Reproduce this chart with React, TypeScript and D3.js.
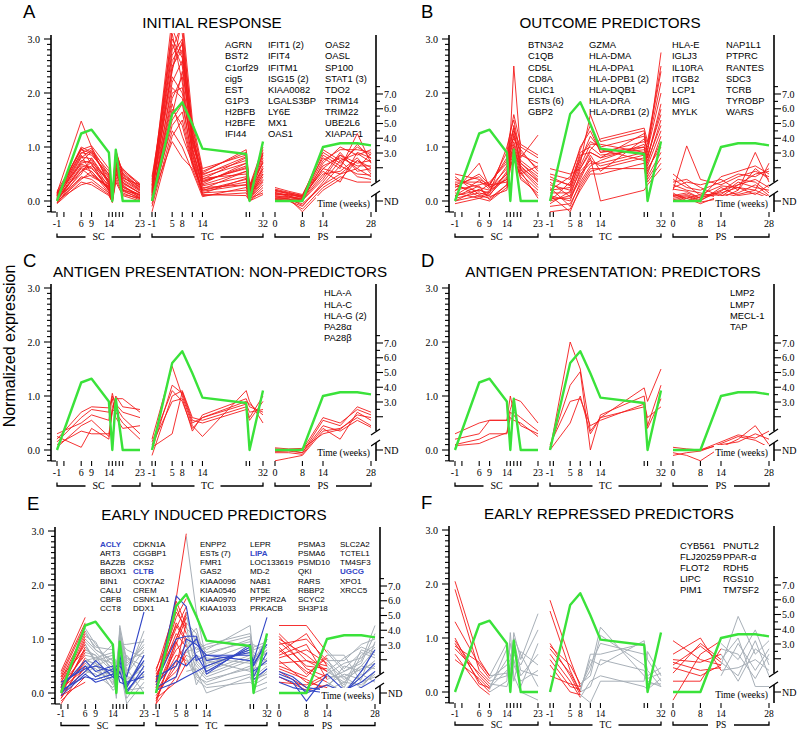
import React from 'react';
import * as d3 from 'd3';

// ---------- time points ----------
const SC_T = [-1, 6, 9, 14, 15, 16, 18, 23];
const TC_T = [-1, 5, 8, 11, 14, 27, 28, 32];
const PS_T = [0, 4, 8, 14, 19, 24, 28];

const SC_TICKS = [-1, 1, 6, 9, 14, 15, 16, 17, 18, 23];
const TC_TICKS = [-1, 0, 5, 8, 11, 14, 27, 28, 32];
const PS_TICKS = [0, 8, 14, 28];
const SC_LABELS = [-1, 6, 9, 14, 23];
const TC_LABELS = [-1, 5, 8, 14, 32];
const PS_LABELS = [0, 8, 14, 28];

const LEFT_TICK_LABELS = [0, 1, 2, 3];
const RIGHT_TICK_LABELS = [3, 4, 5, 6, 7];

// ---------- reference (green) profile ----------
const GREEN_SC = [0.0, 1.25, 1.32, 0.9, 0.0, 0.95, 0.0, 0.0];
const GREEN_TC = [0.0, 1.61, 1.83, 1.42, 0.97, 0.87, 0.0, 1.1];
const GREEN_PS = [0.0, 0.0, 0.0, 1.0, 1.07, 1.07, 1.03];

// ---------- Panel A ----------
const A_SC = [
  [0.0, 0.62, 0.55, 0.2, 0.02, 0.6, 0.35, 0.15],
  [0.05, 0.8, 0.95, 0.35, 0.05, 0.7, 0.45, 0.2],
  [-0.03, 0.45, 0.4, 0.15, 0.0, 0.55, 0.25, 0.1],
  [0.1, 1.0, 0.9, 0.45, 0.08, 0.9, 0.55, 0.3],
  [0.15, 1.48, 1.0, 0.3, 0.05, 0.85, 0.4, 0.2],
  [0.02, 0.7, 0.75, 0.25, 0.0, 0.65, 0.3, 0.05],
  [0.08, 0.55, 0.65, 0.4, 0.1, 0.75, 0.6, 0.28],
  [0.12, 0.9, 0.85, 0.5, 0.05, 0.8, 0.2, 0.12],
  [-0.05, 0.35, 0.3, 0.1, -0.02, 0.45, 0.15, 0.02],
  [0.18, 0.95, 1.02, 0.6, 0.12, 0.95, 0.5, 0.25],
  [0.0, 0.65, 0.6, 0.3, 0.03, 0.5, 0.22, 0.08],
  [0.06, 0.75, 0.7, 0.2, 0.0, 0.7, 0.38, 0.18],
  [0.03, 0.5, 0.8, 0.35, 0.06, 0.6, 0.28, 0.1],
  [0.1, 0.85, 0.5, 0.25, 0.02, 0.75, 0.45, 0.22],
  [-0.02, 0.4, 0.55, 0.15, 0.0, 0.4, 0.12, 0.05],
  [0.14, 0.95, 0.88, 0.42, 0.08, 0.88, 0.32, 0.15],
  [0.04, 0.6, 0.45, 0.28, 0.04, 0.62, 0.42, 0.3],
  [0.07, 0.72, 0.92, 0.55, 0.1, 0.82, 0.18, 0.06],
  [0.01, 0.3, 0.35, 0.12, -0.03, 0.35, 0.1, 0.0],
  [0.09, 0.82, 0.78, 0.32, 0.05, 0.72, 0.52, 0.26],
  [0.16, 0.68, 0.62, 0.22, 0.02, 0.58, 0.26, 0.12],
  [-0.04, 0.55, 0.72, 0.38, 0.07, 0.68, 0.34, 0.14],
  [0.11, 0.98, 0.68, 0.18, 0.01, 0.92, 0.48, 0.24],
  [0.05, 0.42, 0.48, 0.26, 0.03, 0.52, 0.2, 0.04],
  [0.13, 0.88, 0.98, 0.48, 0.09, 0.78, 0.58, 0.32],
];
const A_TC = [
  [0.0, 2.2, 2.6, 1.0, 0.3, 0.55, 0.1, 0.6],
  [0.1, 2.8, 3.3, 1.2, 0.4, 0.8, 0.2, 0.9],
  [-0.05, 1.5, 1.8, 0.8, 0.2, 0.4, 0.05, 0.35],
  [0.2, 3.4, 3.1, 1.4, 0.55, 0.9, 0.25, 0.95],
  [0.05, 1.9, 2.3, 0.95, 0.25, 0.3, 0.08, 0.5],
  [0.3, 2.6, 2.9, 1.1, 0.45, 0.7, 0.15, 0.75],
  [-0.2, 1.2, 1.5, 0.7, 0.15, 0.2, 0.02, 0.25],
  [0.15, 3.2, 2.7, 1.3, 0.35, 0.65, 0.18, 0.8],
  [0.02, 2.0, 2.1, 0.9, 0.1, 0.15, 0.0, 0.2],
  [0.4, 2.4, 3.4, 1.5, 0.6, 0.85, 0.3, 0.7],
  [0.08, 1.7, 1.4, 0.65, 0.2, 0.35, 0.06, 0.45],
  [0.25, 2.9, 2.5, 1.05, 0.5, 0.75, 0.22, 0.85],
  [-0.1, 1.3, 1.0, 0.55, 0.08, 0.25, 0.04, 0.3],
  [0.12, 2.5, 2.8, 1.15, 0.38, 0.6, 0.12, 0.65],
  [0.35, 3.1, 2.2, 0.85, 0.28, 0.45, 0.1, 0.55],
  [0.0, 1.6, 2.4, 1.25, 0.42, 0.5, 0.14, 0.4],
  [0.18, 2.1, 1.9, 0.75, 0.18, 0.3, 0.05, 0.15],
  [0.45, 2.7, 3.0, 1.35, 0.52, 0.95, 0.28, 1.0],
  [0.06, 1.1, 0.8, 0.6, 0.12, 0.1, 0.0, 0.12],
  [0.22, 2.3, 2.0, 0.95, 0.32, 0.7, 0.2, 0.6],
  [0.1, 1.8, 1.2, 0.7, 0.22, 0.55, 0.09, 0.5],
  [0.28, 3.0, 2.65, 1.2, 0.48, 0.82, 0.24, 0.88],
  [0.03, 1.4, 1.65, 0.72, 0.14, 0.42, 0.07, 0.38],
  [0.16, 2.45, 2.95, 1.1, 0.36, 0.62, 0.16, 0.72],
];
const A_PS = [
  [0.1, 0.08, 0.05, 0.6, 0.85, 0.7, 0.75],
  [0.2, 0.15, 0.1, 0.9, 0.7, 1.0, 0.85],
  [0.0, 0.02, -0.05, 0.3, 0.5, 0.6, 0.45],
  [0.15, 0.1, 0.0, 0.7, 1.0, 0.85, 0.95],
  [0.05, 0.05, -0.2, 0.2, 0.4, 0.75, 0.55],
  [0.25, 0.18, 0.12, 0.8, 0.6, 1.25, 0.7],
  [0.08, 0.03, 0.02, 0.45, 0.9, 0.55, 0.6],
  [0.12, 0.12, 0.08, 0.55, 0.35, 0.9, 0.8],
  [0.02, 0.0, -0.1, 0.35, 0.75, 0.45, 0.4],
  [0.18, 0.14, 0.06, 0.75, 0.95, 0.95, 0.9],
  [0.06, 0.06, 0.04, 0.5, 0.55, 0.8, 0.5],
  [0.22, 0.16, 0.1, 0.65, 0.8, 0.65, 0.65],
  [0.04, 0.01, -0.15, 0.25, 0.45, 0.35, 0.35],
  [0.14, 0.09, 0.03, 0.85, 0.65, 1.05, 0.78],
  [0.09, 0.07, 0.01, 0.4, 0.85, 0.6, 0.88],
  [0.16, 0.11, 0.07, 0.6, 0.5, 0.75, 0.62],
  [0.03, 0.04, -0.08, 0.3, 0.65, 0.5, 0.48],
  [0.2, 0.13, 0.09, 0.95, 0.75, 0.88, 0.72],
];

// ---------- Panel B ----------
const B_SC = [
  [0.1, 0.2, 0.15, 0.5, 0.9, 1.1, 0.7, 0.4],
  [0.5, 0.4, 0.3, 0.8, 1.2, 2.5, 0.9, 0.6],
  [0.0, 0.1, 0.05, 0.3, 0.7, 0.9, 0.5, 0.2],
  [0.3, 0.45, 0.25, 0.6, 1.0, 1.4, 0.8, 1.22],
  [-0.05, 0.05, 0.0, 0.25, 0.65, 0.8, 0.45, 0.1],
  [0.2, 0.3, 0.35, 0.7, 1.1, 1.3, 1.0, 0.8],
  [0.4, 0.25, 0.2, 0.4, 0.85, 1.0, 0.6, 0.3],
  [0.05, 0.15, 0.1, 0.55, 0.95, 1.2, 0.75, 0.5],
  [0.25, 0.5, 0.3, 0.35, 0.75, 0.95, 0.55, 0.05],
  [0.15, 0.05, 0.12, 0.45, 0.8, 1.05, 0.65, 0.35],
  [0.35, 0.35, 0.28, 0.9, 1.3, 1.5, 0.85, 0.7],
  [0.0, 0.22, 0.08, 0.2, 0.6, 0.85, 0.4, 0.15],
  [0.45, 0.12, 0.18, 0.65, 1.05, 1.15, 0.95, 0.55],
  [0.1, 0.38, 0.22, 0.5, 0.9, 1.25, 0.7, 0.45],
  [0.28, 0.18, 0.32, 0.75, 1.15, 1.35, 0.58, 0.25],
  [0.08, 0.28, 0.02, 0.3, 0.7, 0.75, 0.5, 0.65],
  [0.18, 0.7, 0.25, 0.4, 0.8, 0.95, 0.62, 0.38],
  [0.32, 0.08, 0.15, 1.0, 1.25, 1.6, 1.05, 0.85],
];
const B_TC = [
  [0.0, 0.1, 0.6, 0.9, 0.8, 1.0, 0.7, 1.5],
  [0.3, 0.2, 0.8, 1.1, 1.0, 1.2, 0.9, 2.75],
  [-0.1, -0.05, 0.3, 0.6, 0.6, 0.8, 0.5, 1.2],
  [0.5, 0.4, 1.0, 1.3, 0.9, 1.1, 1.0, 2.2],
  [0.1, 0.0, 0.5, 0.7, 0.7, 0.9, 0.6, 1.0],
  [0.2, 0.25, 0.7, 1.6, 1.1, 1.3, 0.8, 1.8],
  [-0.2, -0.15, 0.2, 0.5, 0.5, 0.7, 0.4, 0.8],
  [0.4, 0.3, 0.9, 1.0, 0.85, 0.95, 0.75, 1.4],
  [0.05, 0.05, 0.4, 0.8, 0.0, 0.2, 0.3, 0.6],
  [0.6, 0.5, 0.6, 0.95, 1.15, 1.35, 1.1, 2.5],
  [0.15, 0.15, 0.55, 0.75, 0.65, 0.85, 0.55, 1.1],
  [0.25, -0.1, 0.35, 0.65, 0.75, 1.05, 0.85, 1.6],
  [0.0, 0.35, 0.75, 1.2, 0.95, 0.75, 0.45, 0.9],
  [0.35, 0.08, 0.45, 0.85, 0.55, 1.15, 0.95, 2.0],
  [-0.05, 0.18, 0.65, 1.05, 1.05, 0.9, 0.65, 1.3],
  [0.45, 0.28, 0.85, 0.9, 0.8, 1.25, 1.05, 2.4],
  [0.1, -0.2, 0.25, 0.55, 0.6, 0.6, 0.35, 0.7],
  [0.2, 0.45, 0.95, 1.4, 0.9, 1.0, 0.8, 1.7],
];
const B_PS = [
  [0.1, 0.15, 0.05, 0.2, 0.3, 0.4, 0.25],
  [0.5, 0.3, 0.1, 0.15, 0.25, 0.2, 0.7],
  [0.0, 0.05, -0.05, 0.1, 0.15, 0.3, 0.1],
  [0.2, 1.02, 0.4, 0.3, 0.45, 0.55, 0.45],
  [0.3, 0.2, 0.15, 0.05, 0.2, 0.9, 0.35],
  [0.05, 0.1, 0.0, 0.25, 0.1, 0.15, 0.05],
  [0.4, 0.25, 0.2, 0.35, 0.5, 0.45, 0.6],
  [0.15, 0.0, 0.08, 0.12, 0.35, 0.25, 0.2],
  [0.25, 0.35, 0.3, 0.4, 0.2, 0.6, 0.4],
  [0.08, 0.12, 0.02, 0.18, 0.4, 0.35, 0.15],
  [0.35, 0.4, 0.25, 0.08, 0.3, 0.5, 0.55],
  [0.12, 0.05, 0.12, 0.28, 0.25, 0.12, 0.3],
  [0.22, 0.18, 0.05, 0.45, 0.55, 0.65, 0.5],
  [0.02, 0.08, -0.02, 0.05, 0.12, 0.2, 0.08],
];

// ---------- Panel C ----------
const C_SC = [
  [0.15, 0.6, 0.75, 0.7, 1.05, 0.8, 0.6, 0.3],
  [0.25, 0.05, 0.4, 0.2, 0.8, 0.95, 0.95, 0.7],
  [0.1, 0.35, 0.3, 0.3, 0.7, 1.0, 0.8, 0.75],
  [0.2, 0.7, 0.8, 0.78, 0.95, 0.6, 0.4, 0.45],
  [0.05, 0.45, 0.55, 0.25, 0.75, 0.7, 0.5, 0.2],
  [0.3, 0.5, 0.65, 0.55, 1.0, 0.85, 0.7, 0.6],
];
const C_TC = [
  [0.0, 1.2, 1.05, 0.5, 0.6, 0.85, 0.7, 0.75],
  [0.2, 1.55, 1.0, 0.45, 0.25, 1.1, 0.9, 0.5],
  [-0.1, 1.0, 1.1, 0.6, 0.55, 0.8, 0.6, 1.0],
  [0.1, 0.9, 0.95, 0.35, 0.65, 0.95, 0.8, 0.7],
  [0.05, 0.3, 1.08, 0.55, 0.5, 0.75, 0.55, 0.9],
  [0.15, 1.1, 0.9, 0.4, 0.6, 0.9, 0.85, 0.65],
];
const C_PS = [
  [0.0, 0.0, -0.05, 0.55, 0.45, 0.8, 0.7],
  [-0.05, -0.05, -0.08, 0.4, 0.2, 0.7, 0.55],
  [-0.2, -0.15, -0.1, 0.35, 0.4, 0.6, 0.45],
  [0.02, 0.0, 0.0, 0.6, 0.5, 0.75, 0.65],
  [-0.03, -0.02, -0.05, 0.45, 0.35, 0.55, 0.42],
  [0.04, 0.02, 0.03, 0.3, 0.38, 0.65, 0.6],
];

// ---------- Panel D ----------
const D_SC = [
  [0.3, 0.5, 0.55, 0.55, 0.75, 0.95, 0.9, 0.5],
  [0.2, 0.3, 0.55, 0.55, 1.0, 0.7, 0.6, 0.35],
  [0.1, 0.2, 0.3, 0.3, 0.6, 0.55, 0.5, 0.25],
  [0.08, 0.12, 0.2, 0.32, 0.7, 0.65, 0.45, 0.3],
];
const D_TC = [
  [0.0, 2.0, 1.5, 0.35, 0.6, 1.15, 0.9, 1.5],
  [0.05, 1.2, 1.45, 0.0, 0.65, 1.0, 0.45, 1.2],
  [0.1, 0.9, 0.95, 0.45, 0.55, 0.85, 0.6, 0.8],
  [0.0, 0.5, 1.0, 0.3, 0.6, 0.8, 0.4, 0.95],
];
const D_PS = [
  [0.05, 0.02, 0.0, 0.15, 0.28, 0.22, 0.35],
  [-0.05, -0.1, -0.2, 0.05, 0.2, 0.45, 0.1],
  [0.0, 0.0, 0.0, 0.1, 0.15, 0.3, 0.2],
  [-0.1, -0.05, -0.02, 0.12, 0.25, 0.18, 0.05],
];

// ---------- Panel E ----------
const E_SC_RED_T = [-1, 6];
const E_SC_GRAY_T = [6, 9, 14, 15, 16, 18, 23];
const E_TC_RED_T = [-1, 5, 8];
const E_TC_GRAY_T = [8, 11, 14, 27, 28, 32];
const E_PS_RED_T = [0, 8, 14];
const E_PS_GRAY_T = [14, 19, 24, 28];

const E_SC_RED = [
  [0.4, 1.4], [0.3, 1.25], [0.0, 0.8], [-0.1, 0.6], [0.2, 1.1], [0.1, 0.95], [-0.2, 0.5],
  [0.05, 1.0], [0.15, 0.7], [-0.05, 0.85], [0.25, 1.15], [0.0, 0.4], [0.1, 0.55], [0.35, 1.3],
  [-0.15, 0.3], [0.05, 0.75], [0.2, 0.9], [-0.1, 0.65], [0.12, 1.05], [0.3, 0.8], [-0.05, 0.2],
  [0.08, 0.45],
];
const E_SC_GRAY = [
  [1.0, 0.8, 0.6, 0.0, 1.2, 0.3, 1.15],
  [0.8, 0.7, 0.4, 0.2, 0.9, 0.1, 0.6],
  [1.2, 0.9, 0.5, -0.1, 1.0, 0.5, 0.9],
  [0.6, 0.55, 0.3, 0.4, 0.7, 0.0, 0.4],
  [0.9, 0.6, 0.7, 0.1, 1.25, 0.6, 0.75],
  [0.5, 0.45, 0.2, 0.3, 0.5, -0.2, 0.2],
  [1.1, 0.85, 0.8, 0.0, 0.8, 0.4, 1.0],
  [0.7, 0.65, 0.55, 0.5, 1.1, 0.2, 0.55],
  [0.4, 0.35, 0.1, 0.2, 0.6, 0.7, 0.3],
  [0.95, 0.75, 0.45, -0.05, 1.05, 0.35, 0.8],
  [0.65, 0.5, 0.65, 0.6, 0.4, 0.05, 0.1],
  [1.05, 0.95, 0.35, 0.15, 0.95, 0.8, 0.65],
  [0.55, 0.4, 0.25, 0.05, 0.75, 0.25, 0.45],
  [0.85, 0.6, 0.9, 0.3, 1.15, 0.55, 0.85],
  [0.75, 0.7, 0.15, 0.45, 0.55, -0.1, 0.35],
  [0.45, 0.3, 0.4, 0.0, 0.85, 0.45, 0.0],
  [1.15, 0.8, 0.6, 0.25, 0.65, 0.15, 0.7],
  [0.35, 0.5, 0.3, 0.35, 1.0, 0.65, 0.5],
  [0.9, 0.55, 0.05, 0.1, 0.45, 0.3, 0.25],
  [0.6, 0.65, 0.75, 0.5, 0.9, 0.9, 0.95],
];
const E_SC_BLUE = [
  [0.1, 0.6, 0.4, 0.5, 0.2, 0.4, 0.0, 0.5],
  [0.0, 0.4, 0.6, 0.3, 0.25, 0.7, 0.1, 0.7],
  [0.15, 0.5, 0.3, 0.45, 0.35, 0.3, 0.2, 0.3],
  [0.05, 0.3, 0.25, 0.35, 0.5, 0.5, 0.3, 1.5],
  [0.2, 0.45, 0.5, 0.4, 0.3, 0.6, 0.05, 0.4],
  [-0.05, 0.35, 0.2, 0.3, 0.45, 0.2, 0.15, 0.6],
];
const E_TC_RED = [
  [0.0, 1.75, 2.95], [-0.2, 1.0, 1.5], [0.2, 1.5, 1.2], [0.1, 0.8, 1.0], [-0.1, 0.6, 0.9],
  [0.3, 1.2, 1.6], [0.05, 0.4, 0.7], [-0.15, 0.9, 1.4], [0.4, 1.6, 1.1], [0.15, 1.1, 0.85],
  [-0.05, 0.5, 1.3], [0.25, 1.4, 1.75], [0.0, 0.7, 0.6], [0.1, 1.3, 1.0], [-0.2, 0.3, 0.8],
  [0.35, 1.0, 1.45], [0.05, 0.95, 0.5], [0.2, 1.7, 1.25], [-0.1, 0.2, 0.55], [0.45, 1.25, 0.95],
];
const E_TC_GRAY = [
  [2.9, 1.5, 0.6, 0.9, 0.5, 0.8],
  [1.2, 1.0, 0.8, 1.25, 0.6, 1.0],
  [0.8, 0.5, 0.3, 0.6, 0.2, 0.4],
  [1.0, 1.2, 0.5, 0.8, 0.9, 0.7],
  [0.6, 0.4, 0.0, 0.3, 0.1, 0.2],
  [1.4, 0.9, 0.7, 1.0, 0.4, 1.1],
  [0.7, 0.6, 0.4, 0.7, 0.7, 0.6],
  [0.9, 0.3, 0.2, 0.5, 0.0, 0.1],
  [1.1, 0.8, 0.9, 1.1, 0.8, 0.9],
  [0.5, 0.7, 0.6, 0.4, 0.3, 0.5],
  [1.3, 1.1, 0.45, 0.85, 0.55, 0.75],
  [0.65, 0.25, 0.1, 0.2, 0.15, 0.3],
  [0.85, 0.95, 0.75, 0.95, 0.65, 0.85],
  [1.5, 0.55, 0.35, 0.65, 0.45, 0.55],
  [0.4, 0.45, 0.25, 0.45, 0.25, 0.35],
  [1.0, 0.65, 0.55, 0.75, 0.85, 0.95],
  [0.75, 0.85, 0.65, 0.55, 0.35, 0.65],
  [1.25, 0.35, 0.15, 0.35, 0.2, 0.45],
  [0.55, 0.75, 0.85, 1.05, 0.75, 0.6],
  [0.95, 0.15, 0.5, 0.8, 0.6, 0.8],
];
const E_TC_BLUE = [
  [0.0, 1.8, 1.6, 0.6, 0.7, 0.7, 0.6, 1.4],
  [0.2, 1.0, 1.05, 1.05, 0.35, 0.9, 0.25, 0.45],
  [0.1, 0.3, 1.0, 0.9, 0.7, 0.6, 0.4, 0.6],
  [0.3, 0.5, 0.8, 1.0, 0.6, 0.75, 0.55, 0.9],
  [0.05, 0.2, 0.3, 0.4, 0.5, 0.8, 0.5, 1.0],
  [0.15, 0.6, 0.5, 0.7, 0.4, 0.85, 0.3, 0.75],
];
const E_PS_RED = [
  [1.25, 1.25, 0.75], [1.0, 0.7, 0.4], [0.8, 0.4, 0.2], [0.6, 0.2, 0.1], [0.9, 1.0, 0.6],
  [0.4, 0.1, 0.3], [1.1, 0.6, 0.5], [0.7, 0.9, 0.25], [0.5, 0.3, 0.7], [0.3, 0.05, 0.15],
  [0.95, 0.5, 0.45], [0.65, 0.8, 0.55], [0.2, 0.15, 0.35], [0.85, 0.35, 0.65], [0.55, 0.6, 0.4],
  [0.75, 1.1, 0.5], [0.45, 0.25, 0.05], [1.05, 0.45, 0.3],
];
const E_PS_GRAY = [
  [0.75, 0.4, 0.6, 1.25], [0.4, 0.2, 0.5, 0.8], [0.2, 0.0, 0.3, 0.5], [0.6, 0.6, 0.9, 1.0],
  [0.3, 0.3, 0.1, 0.4], [0.5, 0.1, 0.7, 0.9], [0.1, 0.5, 0.4, 0.6], [0.7, 0.7, 0.2, 0.3],
  [0.45, 0.15, 0.8, 0.7], [0.25, 0.4, 0.55, 1.1], [0.65, 0.05, 0.35, 0.2], [0.35, 0.55, 0.65, 0.85],
  [0.55, 0.25, 0.45, 0.55], [0.15, 0.35, 0.25, 0.95], [0.8, 0.45, 0.75, 0.65], [0.05, 0.2, 0.15, 0.35],
  [0.4, 0.65, 0.85, 0.75], [0.6, 0.3, 0.5, 0.45],
];
const E_PS_BLUE = [
  [0.4, 0.3, 0.1, 0.05, 0.0, 0.4, 0.8],
  [0.3, 0.2, -0.15, 0.35, 0.05, 0.2, 0.4],
  [0.2, 0.1, 0.05, 0.0, 0.0, 0.1, 0.25],
  [0.35, 0.25, 0.0, 0.15, 0.02, 0.3, 0.55],
];

// ---------- Panel F ----------
const F_SC_RED_T = [-1, 6, 9];
const F_SC_GRAY_T = [9, 14, 15, 16, 18, 23];
const F_TC_RED_T = [-1, 5, 8];
const F_TC_GRAY_T = [8, 11, 14, 27, 28, 32];
const F_PS_RED_T = [0, 8, 14];
const F_PS_GRAY_T = [14, 19, 24, 28];

const F_SC_RED = [
  [2.05, 0.6, 0.3], [1.9, 0.4, 0.2], [1.3, 0.5, 0.25], [0.95, 0.3, 0.1], [0.9, 0.2, 0.0],
  [0.8, 0.35, 0.15], [0.7, 0.1, -0.05], [0.6, 0.25, 0.05], [0.85, 0.55, 0.3], [1.0, 0.15, 0.08],
];
const F_SC_GRAY = [
  [0.3, 0.9, 0.2, 1.1, 0.6, 1.45], [0.2, 0.3, 0.9, 0.5, 0.2, 0.4], [0.1, 0.6, 0.4, 1.0, 0.7, 0.1],
  [0.0, 0.2, 1.1, 0.3, 0.0, -0.15], [0.25, 0.5, 0.6, 0.7, 0.5, 1.15], [0.15, 0.1, 0.3, 0.8, 0.3, 0.7],
  [0.05, 0.8, 0.7, 0.2, 0.75, 0.5], [0.3, 0.35, 0.15, 0.6, 0.1, 0.9], [0.08, 0.4, 0.5, 0.95, 0.4, 0.3],
];
const F_TC_RED = [
  [1.7, 0.6, 0.1], [1.5, 0.4, 0.0], [0.9, 0.3, -0.05], [0.85, 0.5, 0.15], [0.7, 0.2, -0.1],
  [0.6, 0.1, 0.05], [0.5, 0.0, -0.05], [0.3, 0.15, 0.1], [0.8, 0.35, 0.0],
];
const F_TC_GRAY = [
  [0.1, 0.4, 1.2, 0.3, 0.2, 0.1], [0.0, 0.7, 0.7, 0.9, 0.6, 0.2], [-0.05, -0.2, 0.2, 0.2, 0.75, 0.3],
  [0.15, 0.3, 1.05, 0.5, 0.3, 0.45], [0.05, 0.6, 0.5, 0.95, 0.15, 0.15], [-0.1, 0.2, 0.3, 0.1, 0.05, 0.25],
  [0.1, 0.5, 0.9, 0.7, 0.4, 0.1], [0.0, 0.1, 0.6, 0.4, 0.25, 0.35],
];
const F_PS_RED = [
  [0.95, 0.6, 0.5], [0.7, 1.0, 0.4], [0.5, 0.85, 0.55], [0.2, 0.2, 0.8], [-0.15, 0.7, 0.95],
  [0.55, 0.4, 0.45], [0.35, 0.9, 0.6], [0.6, 0.55, 0.7], [0.45, 0.3, 0.5],
];
const F_PS_GRAY = [
  [0.5, 1.4, 0.7, 0.95], [0.9, 0.6, 1.15, 0.5], [0.3, 0.9, 0.4, 0.8], [0.7, 0.2, 0.8, 0.6],
  [0.6, 1.0, 0.1, 0.1], [0.4, 0.45, 0.6, 0.4], [0.8, 0.7, 0.25, 0.7], [0.55, 0.3, 0.95, 0.3],
];

// ---------- gene lists ----------
const A_GENES = [
  ['AGRN', 'BST2', 'C1orf29', 'cig5', 'EST', 'G1P3', 'H2BFB', 'H2BFE', 'IFI44'],
  ['IFIT1 (2)', 'IFIT4', 'IFITM1', 'ISG15 (2)', 'KIAA0082', 'LGALS3BP', 'LY6E', 'MX1', 'OAS1'],
  ['OAS2', 'OASL', 'SP100', 'STAT1 (3)', 'TDO2', 'TRIM14', 'TRIM22', 'UBE2L6', 'XIAPAF1'],
];
const B_GENES = [
  ['BTN3A2', 'C1QB', 'CD5L', 'CD8A', 'CLIC1', 'ESTs (6)', 'GBP2'],
  ['GZMA', 'HLA-DMA', 'HLA-DPA1', 'HLA-DPB1 (2)', 'HLA-DQB1', 'HLA-DRA', 'HLA-DRB1 (2)'],
  ['HLA-E', 'IGLJ3', 'IL10RA', 'ITGB2', 'LCP1', 'MIG', 'MYLK'],
  ['NAP1L1', 'PTPRC', 'RANTES', 'SDC3', 'TCRB', 'TYROBP', 'WARS'],
];
const C_GENES = [['HLA-A', 'HLA-C', 'HLA-G (2)', 'PA28\u03b1', 'PA28\u03b2']];
const D_GENES = [['LMP2', 'LMP7', 'MECL-1', 'TAP']];
const E_GENES = [
  ['ACLY', 'ART3', 'BAZ2B', 'BBOX1', 'BIN1', 'CALU', 'CBFB', 'CCT8'],
  ['CDKN1A', 'CGGBP1', 'CKS2', 'CLTB', 'COX7A2', 'CREM', 'CSNK1A1', 'DDX1'],
  ['ENPP2', 'ESTs (7)', 'FMR1', 'GAS2', 'KIAA0096', 'KIAA0546', 'KIAA0970', 'KIAA1033'],
  ['LEPR', 'LIPA', 'LOC133619', 'MD-2', 'NAB1', 'NT5E', 'PPP2R2A', 'PRKACB'],
  ['PSMA3', 'PSMA6', 'PSMD10', 'QKI', 'RARS', 'RBBP2', 'SCYC2', 'SH3P18'],
  ['SLC2A2', 'TCTEL1', 'TM4SF3', 'UGCG', 'XPO1', 'XRCC5'],
];
const E_BLUE_GENES = ['ACLY', 'CLTB', 'LIPA', 'UGCG'];
const F_GENES = [
  ['CYB561', 'FLJ20259', 'FLOT2', 'LIPC', 'PIM1'],
  ['PNUTL2', 'PPAR-\u03b1', 'RDH5', 'RGS10', 'TM7SF2'],
];

// ---------- styling ----------
const SANS = "'Liberation Sans', Arial, Helvetica, sans-serif";
const SERIF = "'Liberation Serif', 'Times New Roman', Times, serif";
const RED = '#f41b1b';
const GREEN = '#3ae23a';
const GRAY = '#a8b0b8';
const BLUE = '#3246c6';

type Layer = { times: number[]; lines: number[][]; color: string; width: number };
type PanelCfg = {
  id: string;
  dx: number;
  dy: number;
  letter: string;
  title: string;
  titleX: number;
  sc: Layer[];
  tc: Layer[];
  ps: Layer[];
  genes: string[][];
  geneX: number[];
  geneY: number;
  geneStep: number;
  geneSize: number;
  labelY: number;
  bracketY: number;
  axisFont: number;
};

const red = (times: number[], lines: number[][]): Layer => ({ times, lines, color: RED, width: 0.9 });
const gray = (times: number[], lines: number[][]): Layer => ({ times, lines, color: GRAY, width: 1 });
const blue = (times: number[], lines: number[][]): Layer => ({ times, lines, color: BLUE, width: 1.1 });

const PANELS: PanelCfg[] = [
  {
    id: 'A', dx: 0, dy: 0, letter: 'A', title: 'INITIAL RESPONSE', titleX: 212,
    sc: [red(SC_T, A_SC)], tc: [red(TC_T, A_TC)], ps: [red(PS_T, A_PS)],
    genes: A_GENES, geneX: [225, 268, 325], geneY: 45, geneStep: 11.1, geneSize: 9.4,
    labelY: 226.5, bracketY: 237, axisFont: 10,
  },
  {
    id: 'B', dx: 398, dy: 0, letter: 'B', title: 'OUTCOME PREDICTORS', titleX: 212,
    sc: [red(SC_T, B_SC)], tc: [red(TC_T, B_TC)], ps: [red(PS_T, B_PS)],
    genes: B_GENES, geneX: [528, 589, 672, 726], geneY: 45, geneStep: 11.1, geneSize: 9.4,
    labelY: 226.5, bracketY: 237, axisFont: 10,
  },
  {
    id: 'C', dx: 0, dy: 249, letter: 'C', title: 'ANTIGEN PRESENTATION: NON-PREDICTORS', titleX: 220,
    sc: [red(SC_T, C_SC)], tc: [red(TC_T, C_TC)], ps: [red(PS_T, C_PS)],
    genes: C_GENES, geneX: [324], geneY: 293, geneStep: 11.2, geneSize: 9.4,
    labelY: 226.5, bracketY: 237, axisFont: 10,
  },
  {
    id: 'D', dx: 398, dy: 249, letter: 'D', title: 'ANTIGEN PRESENTATION: PREDICTORS', titleX: 215,
    sc: [red(SC_T, D_SC)], tc: [red(TC_T, D_TC)], ps: [red(PS_T, D_PS)],
    genes: D_GENES, geneX: [730], geneY: 293, geneStep: 11.2, geneSize: 9.4,
    labelY: 226.5, bracketY: 237, axisFont: 10,
  },
  {
    id: 'E', dx: 4, dy: 492, letter: 'E', title: 'EARLY INDUCED PREDICTORS', titleX: 210,
    sc: [gray(E_SC_GRAY_T, E_SC_GRAY), red(E_SC_RED_T, E_SC_RED), blue(SC_T, E_SC_BLUE)],
    tc: [gray(E_TC_GRAY_T, E_TC_GRAY), red(E_TC_RED_T, E_TC_RED), blue(TC_T, E_TC_BLUE)],
    ps: [gray(E_PS_GRAY_T, E_PS_GRAY), red(E_PS_RED_T, E_PS_RED), blue(PS_T, E_PS_BLUE)],
    genes: E_GENES, geneX: [100, 133, 200, 250, 298, 340], geneY: 544, geneStep: 9.2, geneSize: 8,
    labelY: 225, bracketY: 233.5, axisFont: 9.5,
  },
  {
    id: 'F', dx: 398, dy: 491, letter: 'F', title: 'EARLY REPRESSED PREDICTORS', titleX: 211,
    sc: [gray(F_SC_GRAY_T, F_SC_GRAY), red(F_SC_RED_T, F_SC_RED)],
    tc: [gray(F_TC_GRAY_T, F_TC_GRAY), red(F_TC_RED_T, F_TC_RED)],
    ps: [gray(F_PS_GRAY_T, F_PS_GRAY), red(F_PS_RED_T, F_PS_RED)],
    genes: F_GENES, geneX: [680, 723], geneY: 546, geneStep: 10.9, geneSize: 9.4,
    labelY: 225.5, bracketY: 234, axisFont: 9.5,
  },
];

// ---------- shared panel geometry (panel-local pixels) ----------
const AXIS_X = 51;
const RIGHT_X = 376;
const Y_TOP = 35;
const Y_BOTTOM = 212;
const y = d3.scaleLinear().domain([0, 3]).range([201, 39]);
const yRight = d3.scaleLinear().domain([3, 7]).range([153, 94]);
const xSC = d3.scaleLinear().domain([-1, 23]).range([57, 140]);
const xTC = d3.scaleLinear().domain([-1, 32]).range([152, 263]);
const xPS = d3.scaleLinear().domain([0, 28]).range([275, 371]);

const SEGMENTS = [
  { key: 'sc', name: 'SC', x: xSC, ticks: SC_TICKS, labels: SC_LABELS, green: GREEN_SC, times: SC_T },
  { key: 'tc', name: 'TC', x: xTC, ticks: TC_TICKS, labels: TC_LABELS, green: GREEN_TC, times: TC_T },
  { key: 'ps', name: 'PS', x: xPS, ticks: PS_TICKS, labels: PS_LABELS, green: GREEN_PS, times: PS_T },
] as const;

function pathFor(xs: d3.ScaleLinear<number, number>, times: number[], vals: number[]) {
  const gen = d3
    .line<number>()
    .x((_, i) => xs(times[i]))
    .y((v) => y(v));
  return gen(vals) || '';
}

function Panel({ p }: { p: PanelCfg }) {
  const minor = d3.range(-2, 31);
  const rightMinor = d3.range(4, 16).map((k) => k / 2);
  const clipId = `clip-${p.id}`;
  const by = p.bracketY;
  return (
    <g transform={`translate(${p.dx},${p.dy})`}>
      <defs>
        <clipPath id={clipId}>
          <rect x={AXIS_X + 1} y={Y_TOP - 2} width={RIGHT_X - AXIS_X - 2} height={Y_BOTTOM - Y_TOP + 6} />
        </clipPath>
      </defs>
      <text x={23} y={17.5} fontFamily={SANS} fontSize={18.5}>{p.letter}</text>
      <text x={p.titleX} y={27.5} fontFamily={SANS} fontSize={15.2} textAnchor="middle">{p.title}</text>

      {/* left axis */}
      <line x1={AXIS_X} x2={AXIS_X} y1={Y_TOP} y2={Y_BOTTOM} stroke="#000" strokeWidth={1.6} />
      {minor.map((k) => (
        <line key={k} x1={AXIS_X - (k % 10 === 0 ? 7 : 4)} x2={AXIS_X} y1={y(k / 10)} y2={y(k / 10)} stroke="#000" strokeWidth={1.1} />
      ))}
      <line x1={AXIS_X} x2={AXIS_X + 5} y1={Y_BOTTOM} y2={Y_BOTTOM} stroke="#000" strokeWidth={1.2} />
      {LEFT_TICK_LABELS.map((v) => (
        <text key={v} x={AXIS_X - 11} y={y(v) + 3.5} fontFamily={SERIF} fontSize={10} textAnchor="end">{v.toFixed(1)}</text>
      ))}

      {/* right axis */}
      <line x1={RIGHT_X} x2={RIGHT_X} y1={Y_TOP} y2={182} stroke="#000" strokeWidth={1.6} />
      <line x1={RIGHT_X} x2={RIGHT_X} y1={194} y2={Y_BOTTOM} stroke="#000" strokeWidth={1.6} />
      <line x1={RIGHT_X - 5} x2={RIGHT_X + 4} y1={186} y2={180} stroke="#000" strokeWidth={1.4} />
      <line x1={RIGHT_X - 5} x2={RIGHT_X + 4} y1={197} y2={191} stroke="#000" strokeWidth={1.4} />
      {rightMinor.map((v) => (
        <line key={v} x1={RIGHT_X} x2={RIGHT_X + (Number.isInteger(v) ? 7 : 4)} y1={yRight(v)} y2={yRight(v)} stroke="#000" strokeWidth={1.1} />
      ))}
      {RIGHT_TICK_LABELS.map((v) => (
        <text key={v} x={RIGHT_X + 8} y={yRight(v) + 3.5} fontFamily={SERIF} fontSize={10}>{v.toFixed(1)}</text>
      ))}
      <line x1={RIGHT_X} x2={RIGHT_X + 7} y1={y(0)} y2={y(0)} stroke="#000" strokeWidth={1.1} />
      <text x={RIGHT_X + 8} y={y(0) + 3.5} fontFamily={SERIF} fontSize={10}>ND</text>

      {/* gene lists */}
      {p.genes.map((col, ci) =>
        col.map((g, ri) => {
          const isBlue = p.id === 'E' && E_BLUE_GENES.includes(g);
          return (
            <text
              key={`${ci}-${ri}`}
              x={p.geneX[ci] - p.dx}
              y={p.geneY - p.dy + ri * p.geneStep + p.geneSize * 0.36}
              fontFamily={SANS}
              fontSize={p.geneSize}
              fill={isBlue ? BLUE : '#000'}
              fontWeight={isBlue ? 'bold' : 'normal'}
            >
              {g}
            </text>
          );
        })
      )}

      {/* data */}
      <g clipPath={`url(#${clipId})`}>
        {SEGMENTS.map((s) =>
          (p[s.key] as Layer[]).map((layer, li) =>
            layer.lines.map((vals, i) => (
              <path
                key={`${s.key}-${li}-${i}`}
                d={pathFor(s.x, layer.times, vals)}
                fill="none"
                stroke={layer.color}
                strokeWidth={layer.width}
                strokeLinejoin="round"
              />
            ))
          )
        )}
        {SEGMENTS.map((s) => (
          <path key={`g-${s.key}`} d={pathFor(s.x, s.times as unknown as number[], s.green as unknown as number[])} fill="none" stroke={GREEN} strokeWidth={2.4} strokeLinejoin="round" />
        ))}
      </g>

      {/* time label box */}
      <rect x={316} y={196} width={55} height={14} fill="#fff" />
      <text x={343.5} y={207} fontFamily={SERIF} fontSize={9.6} textAnchor="middle">Time (weeks)</text>

      {/* x ticks & labels & brackets */}
      {SEGMENTS.map((s) => {
        const [x0, x1] = s.x.range();
        const cx = (x0 + x1) / 2;
        return (
          <g key={`ax-${s.key}`}>
            {s.ticks.map((t) => (
              <line key={t} x1={s.x(t)} x2={s.x(t)} y1={Y_BOTTOM} y2={Y_BOTTOM + 5} stroke="#000" strokeWidth={1.1} />
            ))}
            {s.labels.map((t) => (
              <text key={t} x={s.x(t)} y={p.labelY} fontFamily={SERIF} fontSize={p.axisFont} textAnchor="middle">{t}</text>
            ))}
            <path
              d={`M${x0},${by - 3.5} L${x0},${by} L${cx - 13},${by} M${cx + 13},${by} L${x1},${by} L${x1},${by - 3.5}`}
              fill="none"
              stroke="#000"
              strokeWidth={1.3}
            />
            <text x={cx} y={by + 3.3} fontFamily={SERIF} fontSize={p.axisFont} textAnchor="middle">{s.name}</text>
          </g>
        );
      })}
    </g>
  );
}

export default function App() {
  return (
    <svg
      width={800}
      height={731}
      viewBox="0 0 800 731"
      style={{ position: 'absolute', left: 0, top: 0, background: '#fff' }}
    >
      <rect x={0} y={0} width={800} height={731} fill="#fff" />
      {PANELS.map((p) => (
        <Panel key={p.id} p={p} />
      ))}
      <text
        transform="translate(15,346) rotate(-90)"
        fontFamily={SANS}
        fontSize={16}
        textAnchor="middle"
      >
        Normalized expression
      </text>
    </svg>
  );
}
